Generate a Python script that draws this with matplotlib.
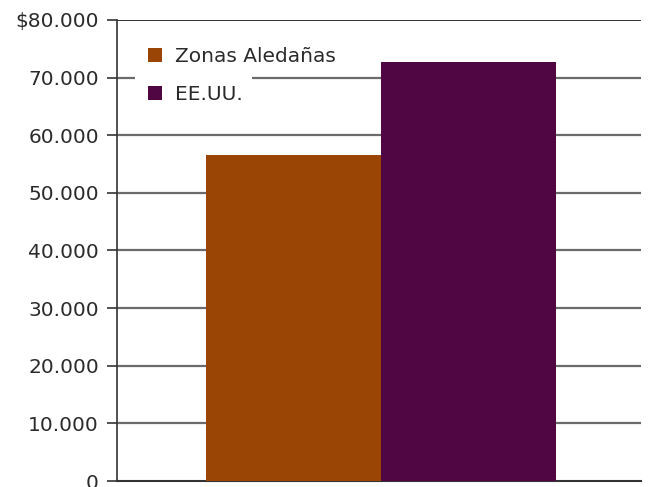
import matplotlib
matplotlib.use("Agg")
import matplotlib.pyplot as plt
from matplotlib.patches import Rectangle
from matplotlib.ticker import FuncFormatter

# datos
series = ["Zonas Aledañas", "EE.UU."]
values = [56600, 72700]
colors = ["#9A4506", "#4F0642"]
yticks = [0, 10000, 20000, 30000, 40000, 50000, 60000, 70000, 80000]

plt.rcParams["font.family"] = ["DejaVu Sans"]

fig = plt.figure(figsize=(6.49, 4.87), dpi=100)
ax = fig.add_axes([0.180, 0.0123, 0.808, 0.9467])

for i, (name, v, c) in enumerate(zip(series, values, colors)):
    ax.bar(i, v, width=1.0, color=c, label=name, zorder=3)

ax.set_xlim(-1.01, 1.99)
ax.set_ylim(0, 80000)
ax.set_yticks(yticks)


def fmt(v, pos):
    s = f"{int(v):,}".replace(",", ".")
    return "$" + s if v == yticks[-1] else s


ax.yaxis.set_major_formatter(FuncFormatter(fmt))
ax.set_xticks([])

for t in yticks[1:-1]:
    ax.axhline(t, color="#6b6b6b", lw=1.6, zorder=1)
ax.axhline(yticks[-1], color="#222222", lw=1.3, zorder=1)

for s in ["top", "right"]:
    ax.spines[s].set_visible(False)
ax.spines["left"].set_color("#333333")
ax.spines["left"].set_linewidth(1.2)
ax.spines["bottom"].set_color("#333333")
ax.spines["bottom"].set_linewidth(1.5)

ax.tick_params(axis="y", length=7, width=1.2, color="#333333", pad=6,
               labelsize=14.5, labelcolor="#2b2b2b")

# fondo blanco bajo la leyenda
ax.add_patch(Rectangle((0.034, 0.84), 0.224, 0.06, transform=ax.transAxes,
                       facecolor="white", edgecolor="none", zorder=2))

leg = ax.legend(loc="upper left", bbox_to_anchor=(0.059, 0.941), frameon=False,
                handlelength=0.7, handleheight=0.7, handletextpad=0.65,
                labelspacing=0.92, borderpad=0, borderaxespad=0, fontsize=14.5)
for t in leg.get_texts():
    t.set_color("#2b2b2b")

fig.savefig("out.png", dpi=100)
